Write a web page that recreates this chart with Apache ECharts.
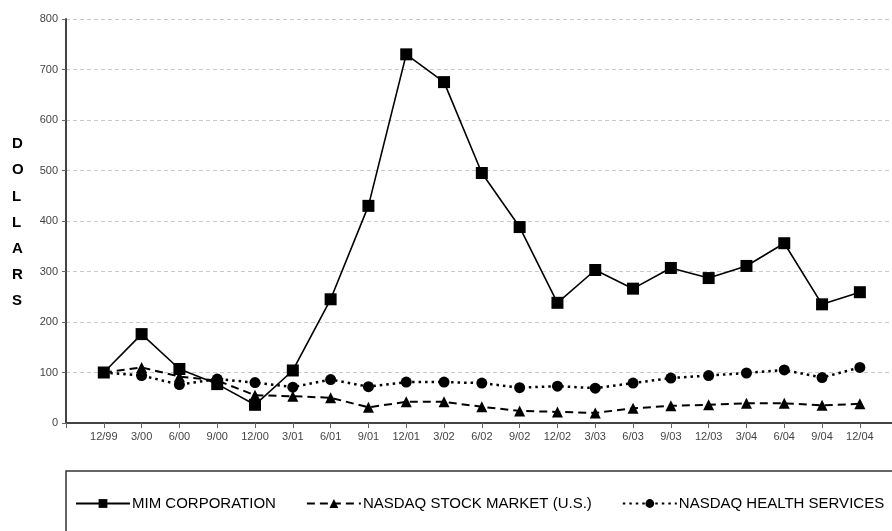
<!DOCTYPE html>
<html>
<head>
<meta charset="utf-8">
<script src="https://cdn.jsdelivr.net/npm/echarts@6/dist/echarts.min.js"></script>
<style>
  html, body { margin: 0; padding: 0; background: #fff; }
  #chart { width: 892px; height: 531px; }
</style>
</head>
<body>
<div id="chart"></div>
<script>
// quarter labels
var quarters = ["12/99", "3/00", "6/00", "9/00", "12/00", "3/01", "6/01", "9/01", "12/01", "3/02", "6/02",
  "9/02", "12/02", "3/03", "6/03", "9/03", "12/03", "3/04", "6/04", "9/04", "12/04"];

// values
var mimCorp = [100, 176, 107, 77, 36, 104, 245, 430, 730, 675, 495, 388, 238, 303, 266, 307, 287, 311, 356, 235, 259];
var nasdaqMarket = [100, 110, 92, 84, 55, 53, 50, 31, 42, 42, 32, 24, 22, 20, 29, 34, 36, 39, 39, 35, 38];
var nasdaqHealth = [100, 94, 76, 87, 80, 71, 86, 72, 81, 81, 79, 70, 73, 69, 79, 89, 94, 99, 105, 90, 110];

var yTicks = [0, 100, 200, 300, 400, 500, 600, 700, 800];

function pairs(arr) {
  return arr.map(function (v, i) { return [i, v]; });
}

var myChart = echarts.init(document.getElementById("chart"));

var option = {
  backgroundColor: "#fff",
  animation: false,
  textStyle: { fontFamily: "Liberation Sans" },
  grid: { left: 66, right: 0, top: 19, bottom: 108 },
  xAxis: {
    type: "value",
    min: -1,
    max: 20.85,
    interval: 1,
    axisLine: { show: true, onZero: false, lineStyle: { color: "#444", width: 2 } },
    axisTick: { show: true, length: 5, lineStyle: { color: "#666" } },
    splitLine: { show: false },
    axisLabel: {
      color: "#444",
      fontSize: 11,
      margin: 8,
      showMaxLabel: false,
      formatter: function (v) {
        if (v < 0 || Math.round(v) !== v) return "";
        return quarters[v] || "";
      }
    }
  },
  yAxis: {
    type: "value",
    min: yTicks[0],
    max: yTicks[yTicks.length - 1],
    interval: 100,
    axisLine: { show: true, onZero: false, lineStyle: { color: "#444", width: 2 } },
    axisTick: { show: true, length: 4, lineStyle: { color: "#666" } },
    axisLabel: { color: "#444", fontSize: 11, margin: 8 },
    splitLine: { show: true, lineStyle: { color: "#c8c8c8", type: [4, 3], width: 1 } }
  },
  legend: {
    left: 70,
    top: 491,
    itemWidth: 54,
    itemHeight: 11,
    itemGap: 30,
    textStyle: { fontFamily: "Liberation Sans", fontSize: 15, color: "#000", padding: [0, 0, 0, -3] },
    data: ["MIM CORPORATION", "NASDAQ STOCK MARKET (U.S.)", "NASDAQ HEALTH SERVICES"]
  },
  graphic: [
    {
      type: "rect",
      shape: { x: 66, y: 471, width: 840, height: 80 },
      style: { fill: "none", stroke: "#333", lineWidth: 1.5 }
    },
    {
      type: "text",
      left: 12,
      top: 131,
      style: {
        text: "D\nO\nL\nL\nA\nR\nS",
        font: "bold 15px Liberation Sans",
        lineHeight: 26.2,
        fill: "#000",
        align: "center"
      }
    }
  ],
  series: [
    {
      name: "NASDAQ HEALTH SERVICES",
      type: "line",
      data: pairs(nasdaqHealth),
      symbol: "circle",
      symbolSize: 11,
      itemStyle: { color: "#000" },
      lineStyle: { color: "#000", width: 2.5, type: [2.5, 4] },
      z: 2
    },
    {
      name: "NASDAQ STOCK MARKET (U.S.)",
      type: "line",
      data: pairs(nasdaqMarket),
      symbol: "triangle",
      symbolSize: 11,
      itemStyle: { color: "#000" },
      lineStyle: { color: "#000", width: 2, type: [8, 5] },
      z: 3
    },
    {
      name: "MIM CORPORATION",
      type: "line",
      data: pairs(mimCorp),
      symbol: "rect",
      symbolSize: 12,
      itemStyle: { color: "#000" },
      lineStyle: { color: "#000", width: 1.6, type: "solid" },
      z: 4
    }
  ]
};

myChart.setOption(option);
</script>
</body>
</html>
